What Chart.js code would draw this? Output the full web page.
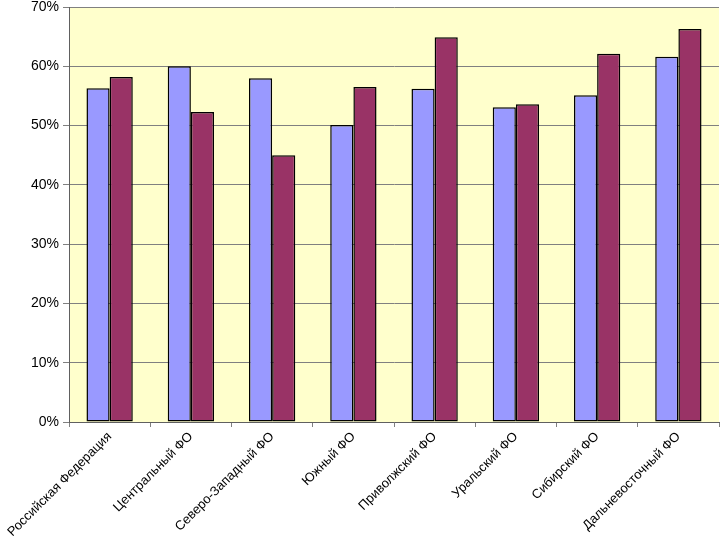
<!DOCTYPE html>
<html>
<head>
<meta charset="utf-8">
<script src="https://cdn.jsdelivr.net/npm/chart.js@4"></script>
<style>
  html, body { margin: 0; padding: 0; background: #ffffff; }
  #wrap { width: 720px; height: 543px; }
</style>
</head>
<body>
<div id="wrap"><canvas id="grafica"></canvas></div>
<script>
const regiones = [
    "Российская Федерация",
    "Центральный ФО",
    "Северо-Западный ФО",
    "Южный ФО",
    "Приволжский ФО",
    "Уральский ФО",
    "Сибирский ФО",
    "Дальневосточный ФО"
];

const serie1 = [56.3, 60.0, 58.0, 50.1, 56.2, 53.1, 55.1, 61.6];
const serie2 = [58.2, 52.3, 45.0, 56.5, 64.9, 53.6, 62.1, 66.3];

const yMin = 0;
const yMax = 70;
const yPaso = 10;

const fuente = "'Liberation Sans', Arial, sans-serif";

// fondo amarillo del área de trazado
const fondoArea = {
    id: "fondoArea",
    beforeDraw(chart) {
        const a = chart.chartArea;
        const ctx = chart.ctx;
        ctx.save();
        ctx.fillStyle = "#FFFFCC";
        ctx.fillRect(a.left, a.top, a.right - a.left, a.bottom - a.top);
        ctx.restore();
    }
};

const ctx = document.getElementById("grafica").getContext("2d");

new Chart(ctx, {
    type: "bar",
    data: {
        labels: regiones,
        datasets: [
            {
                label: "Серия 1",
                data: serie1,
                backgroundColor: "#9999FF",
                borderColor: "#000000",
                borderWidth: 1.5,
                borderSkipped: false
            },
            {
                label: "Серия 2",
                data: serie2,
                backgroundColor: "#993366",
                borderColor: "#000000",
                borderWidth: 1.5,
                borderSkipped: false
            }
        ]
    },
    options: {
        responsive: true,
        maintainAspectRatio: false,
        animation: false,
        layout: {
            padding: { top: 7, right: 1, left: 0, bottom: 0 }
        },
        datasets: {
            bar: {
                categoryPercentage: 0.57,
                barPercentage: 1.0
            }
        },
        plugins: {
            legend: { display: false },
            tooltip: { enabled: false }
        },
        scales: {
            x: {
                afterFit: (scale) => {
                    scale.height = 121;
                    scale.paddingLeft = 0;
                    scale.paddingRight = 0;
                },
                grid: {
                    offset: true,
                    drawOnChartArea: false,
                    color: "#808080",
                    tickLength: 5
                },
                border: { color: "#606060", width: 1 },
                ticks: {
                    color: "#000000",
                    font: { family: fuente, size: 13 },
                    minRotation: 45,
                    maxRotation: 45,
                    autoSkip: false,
                    padding: 2
                }
            },
            y: {
                min: yMin,
                max: yMax,
                afterFit: (scale) => {
                    scale.width = 69;
                    scale.paddingTop = 0;
                    scale.paddingBottom = 0;
                },
                grid: {
                    color: "#808080",
                    lineWidth: 1,
                    tickLength: 6
                },
                border: { color: "#606060", width: 1 },
                ticks: {
                    stepSize: yPaso,
                    color: "#000000",
                    font: { family: fuente, size: 14 },
                    padding: 4,
                    callback: v => v + "%"
                }
            }
        }
    },
    plugins: [fondoArea]
});
</script>
</body>
</html>
